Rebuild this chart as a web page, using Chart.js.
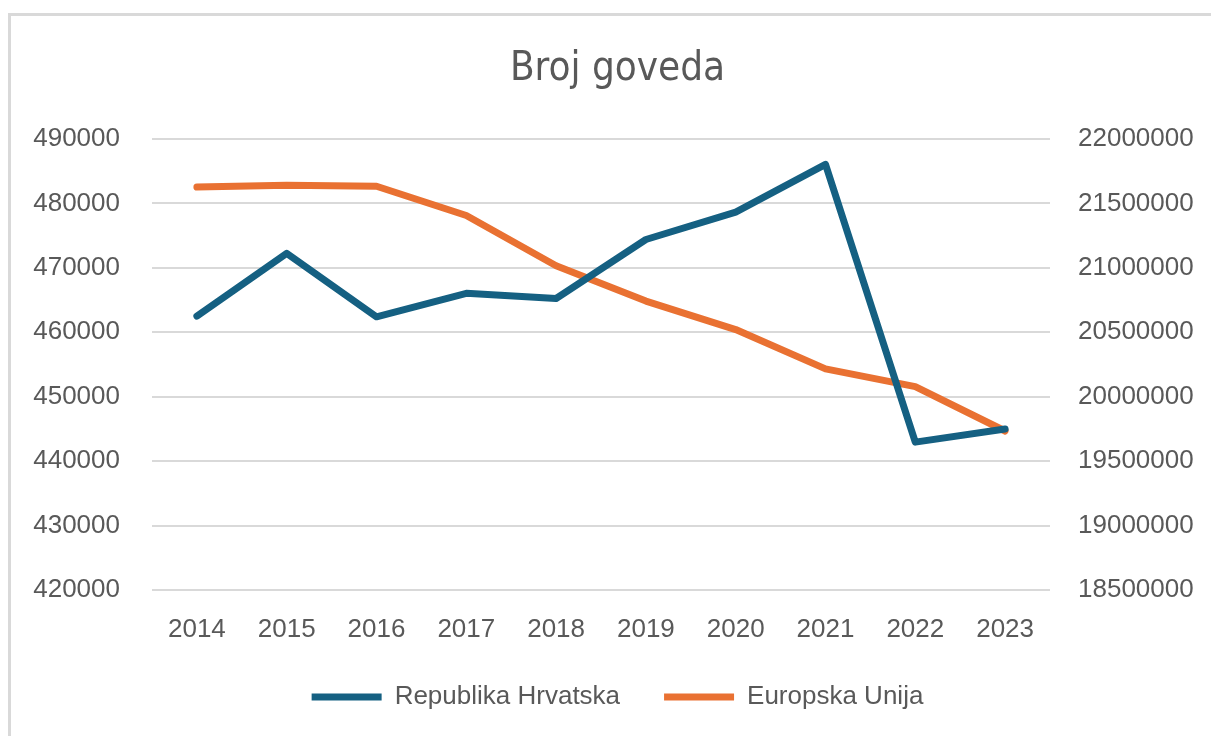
<!DOCTYPE html>
<html>
<head>
<meta charset="utf-8">
<script src="https://cdn.jsdelivr.net/npm/chart.js@4"></script>
<style>
  body { margin: 0; background: #fff; }
  #okvir {
    position: absolute; left: 8px; top: 13px; width: 1220px; height: 740px;
    border: 3px solid #d9d9d9; box-sizing: border-box;
  }
  #graf { position: absolute; left: 0; top: 0; }
</style>
</head>
<body>
<div id="okvir"></div>
<canvas id="graf" width="1211" height="736"></canvas>
<script>
// Podaci
const godine = ['2014', '2015', '2016', '2017', '2018', '2019', '2020', '2021', '2022', '2023'];
const hrvatska = [462500, 472250, 462400, 466050, 465250, 474400, 478650, 486050, 442950, 445000];
const eu = [21627000, 21641000, 21633000, 21406000, 21016000, 20742000, 20521000, 20216000, 20078000, 19734000];

const sivo = '#595959';
const mreza = '#d9d9d9';
const bezRazmaka = (v) => String(v); // bez separatora tisućica

document.addEventListener('DOMContentLoaded', () => {
    const ctx = document.getElementById('graf').getContext('2d');

    new Chart(ctx, {
        type: 'line',
        data: {
            labels: godine,
            datasets: [{
                label: 'Republika Hrvatska',
                data: hrvatska,
                borderColor: '#156082',
                backgroundColor: '#156082',
                borderWidth: 7,
                borderCapStyle: 'round',
                borderJoinStyle: 'round',
                pointRadius: 0,
                tension: 0,
                yAxisID: 'y'
            }, {
                label: 'Europska Unija',
                data: eu,
                borderColor: '#e97132',
                backgroundColor: '#e97132',
                borderWidth: 7,
                borderCapStyle: 'round',
                borderJoinStyle: 'round',
                pointRadius: 0,
                tension: 0,
                yAxisID: 'y1'
            }]
        },
        options: {
            responsive: false,
            animation: false,
            layout: { padding: { left: 24, right: 0, top: 0, bottom: 16 } },
            plugins: {
                title: {
                    display: true,
                    text: 'Broj goveda',
                    color: sivo,
                    font: { family: '"Liberation Sans Narrow", "DejaVu Sans Condensed", sans-serif', size: 40, weight: 'normal', lineHeight: 1.2 },
                    padding: { top: 46, bottom: 45 }
                },
                legend: {
                    position: 'bottom',
                    labels: {
                        color: sivo,
                        font: { family: '"Liberation Sans", sans-serif', size: 26 },
                        usePointStyle: true,
                        pointStyle: 'line',
                        pointStyleWidth: 70,
                        padding: 44
                    }
                },
                tooltip: { enabled: false }
            },
            scales: {
                x: {
                    offset: true,
                    grid: { display: false, drawTicks: false },
                    border: { display: false },
                    ticks: {
                        color: sivo,
                        font: { family: '"Liberation Sans", sans-serif', size: 26 },
                        padding: 24,
                        maxRotation: 0
                    },
                    afterFit: (s) => { s.height = 50; }
                },
                y: {
                    position: 'left',
                    min: 420000,
                    max: 490000,
                    grid: { color: mreza, lineWidth: 2, drawTicks: false },
                    border: { display: false },
                    ticks: {
                        stepSize: 10000,
                        color: sivo,
                        font: { family: '"Liberation Sans", sans-serif', size: 26 },
                        padding: 32,
                        callback: bezRazmaka
                    },
                    afterFit: (s) => { s.width = 152 - 24; }
                },
                y1: {
                    position: 'right',
                    min: 18500000,
                    max: 22000000,
                    grid: { drawOnChartArea: false, drawTicks: false },
                    border: { display: false },
                    ticks: {
                        stepSize: 500000,
                        color: sivo,
                        font: { family: '"Liberation Sans", sans-serif', size: 26 },
                        padding: 28,
                        callback: bezRazmaka
                    },
                    afterFit: (s) => { s.width = 1211 - 1050; }
                }
            }
        }
    });
});
</script>
</body>
</html>
